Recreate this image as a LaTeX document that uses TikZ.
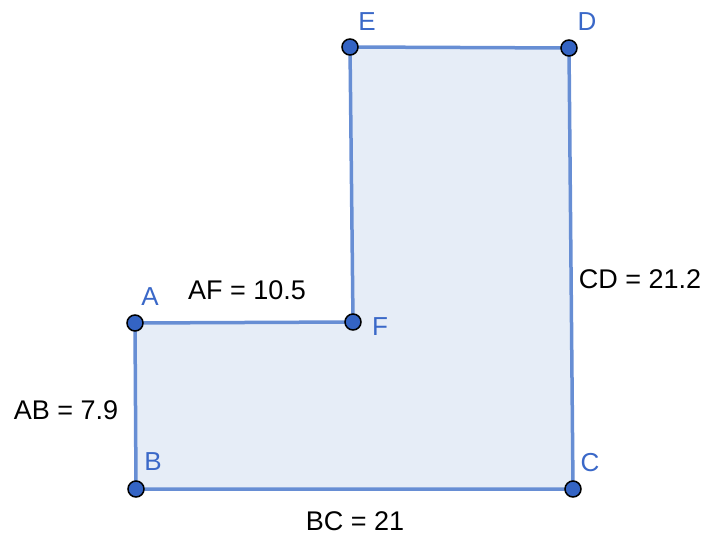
\documentclass[tikz,border=0pt]{standalone}
\usepackage{fontspec}
\setmainfont{Liberation Sans}
\definecolor{edge}{RGB}{103,142,212}
\definecolor{area}{RGB}{230,237,247}
\definecolor{ptfill}{RGB}{52,100,196}
\definecolor{lbl}{RGB}{58,104,200}
\tikzset{
  pt/.style={circle,draw=black,line width=1.5pt,fill=ptfill,minimum size=16pt,inner sep=0pt},
  plbl/.style={text=lbl,inner sep=0pt,font=\fontsize{26}{29}\selectfont},
  mlbl/.style={text=black,inner sep=0pt,font=\fontsize{27}{31}\selectfont}
}
\begin{document}
\begin{tikzpicture}[x=1pt,y=-1pt]
\useasboundingbox (0,0) rectangle (708,537);
\coordinate (A) at (135,323);
\coordinate (B) at (136,489);
\coordinate (C) at (573,489);
\coordinate (D) at (569,48);
\coordinate (E) at (350,47);
\coordinate (F) at (353,322);
\fill[area] (A) -- (B) -- (C) -- (D) -- (E) -- (F) -- cycle;
\draw[edge,line width=3.5pt,line join=round] (A) -- (B) -- (C) -- (D) -- (E) -- (F) -- cycle;
\foreach \p in {A,B,C,D,E,F} \node[pt] (n\p) at (\p) {};
\node[plbl] (lA) at (150,297) {A};
\node[plbl] (lB) at (153,462) {B};
\node[plbl] (lC) at (590,463) {C};
\node[plbl] (lD) at (587,22) {D};
\node[plbl] (lE) at (367,22) {E};
\node[plbl] (lF) at (380,327) {F};
\node[mlbl] (tAF) at (247,290) {AF = 10.5};
\node[mlbl] (tCD) at (640,279) {CD = 21.2};
\node[mlbl] (tAB) at (66,410) {AB = 7.9};
\node[mlbl] (tBC) at (355,521) {BC = 21};
\end{tikzpicture}
\end{document}
